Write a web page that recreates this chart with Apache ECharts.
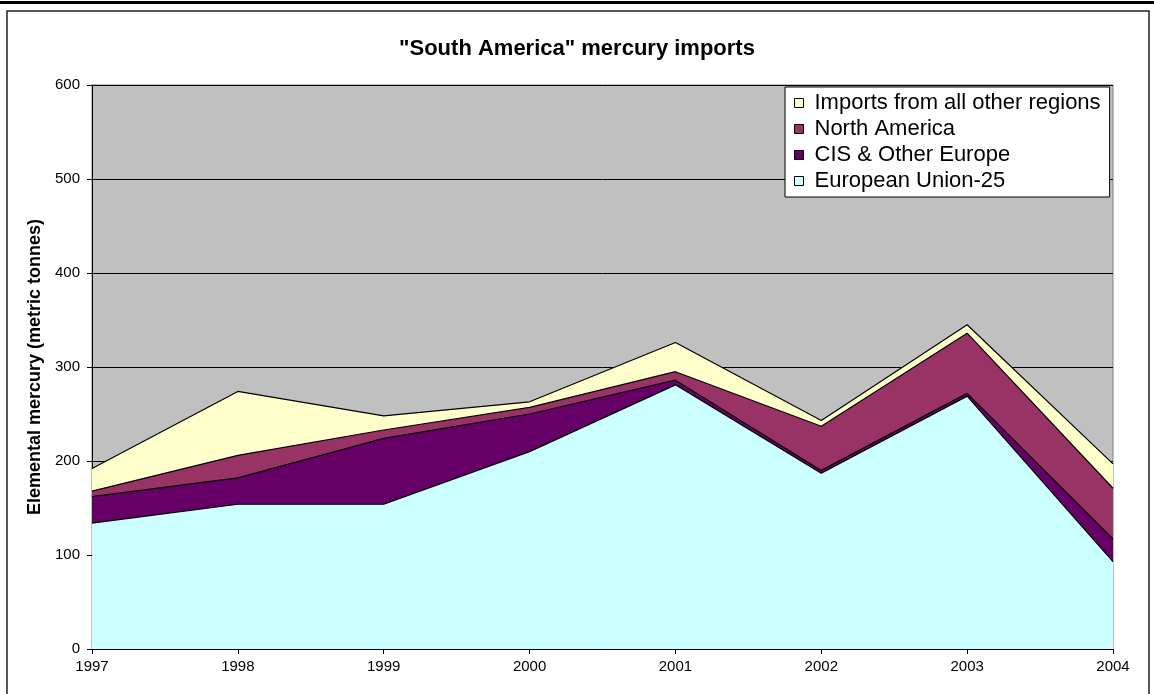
<!DOCTYPE html>
<html>
<head>
<meta charset="utf-8">
<title>"South America" mercury imports</title>
<script src="https://cdn.jsdelivr.net/npm/echarts@6/dist/echarts.min.js"></script>
<style>
  html, body { margin: 0; padding: 0; background: #fff; }
  #chart { width: 1154px; height: 694px; }
</style>
</head>
<body>
<div id="chart"></div>
<script>
const years = ['1997', '1998', '1999', '2000', '2001', '2002', '2003', '2004']
const euValues = [134, 154, 154, 210, 281, 187, 269, 93]
const cisValues = [28, 28, 70, 40, 5, 3, 3, 24]
const northAmericaValues = [6, 24, 9, 7, 9, 47, 64, 54]
const otherValues = [24, 68, 15, 6, 31, 6, 9, 26]

const seriesDefs = [
  { name: 'European Union-25', data: euValues, color: '#CCFFFF' },
  { name: 'CIS & Other Europe', data: cisValues, color: '#660066' },
  { name: 'North America', data: northAmericaValues, color: '#993366' },
  { name: 'Imports from all other regions', data: otherValues, color: '#FFFFCC' }
]

const font = '"Liberation Sans", Arial, sans-serif'

const chart = echarts.init(document.getElementById('chart'))

chart.setOption({
  animation: false,
  backgroundColor: '#fff',
  textStyle: { fontFamily: font },
  title: {
    text: '"South America" mercury imports',
    left: 'center',
    top: 33,
    textStyle: { fontFamily: font, fontSize: 22, fontWeight: 'bold', color: '#000' }
  },
  graphic: [
    { type: 'rect', shape: { x: 0, y: 1, width: 1154, height: 3 }, style: { fill: '#000' } },
    { type: 'rect', shape: { x: 7, y: 11, width: 1142, height: 700 }, style: { fill: 'none', stroke: '#222', lineWidth: 1.5 } }
  ],
  legend: {
    orient: 'vertical',
    left: 785,
    top: 87,
    padding: [5, 9, 5, 9],
    backgroundColor: '#fff',
    borderColor: '#000',
    borderWidth: 1,
    borderRadius: 0,
    icon: 'rect',
    itemWidth: 9,
    itemHeight: 9,
    itemGap: 4,
    itemStyle: { borderColor: '#000', borderWidth: 1 },
    data: ['Imports from all other regions', 'North America', 'CIS & Other Europe', 'European Union-25'],
    textStyle: { fontFamily: font, fontSize: 22, lineHeight: 22, color: '#000', padding: [0, 0, 0, 6] }
  },
  grid: {
    left: 92,
    right: 41,
    top: 85,
    bottom: 45,
    show: true,
    backgroundColor: '#C0C0C0',
    borderColor: '#808080',
    borderWidth: 1
  },
  xAxis: {
    type: 'category',
    data: years,
    boundaryGap: false,
    axisLine: { lineStyle: { color: '#000', width: 1 } },
    axisTick: { show: true, length: 5, lineStyle: { color: '#000' } },
    axisLabel: { color: '#000', fontSize: 15, margin: 10, fontFamily: font },
    splitLine: { show: false }
  },
  yAxis: {
    type: 'value',
    min: 0,
    max: 600,
    interval: 100,
    name: 'Elemental mercury (metric tonnes)',
    nameLocation: 'middle',
    nameGap: 48,
    nameTextStyle: { fontFamily: font, fontSize: 18, fontWeight: 'bold', color: '#000' },
    axisLine: { show: true, lineStyle: { color: '#000', width: 1 } },
    axisTick: { show: true, length: 5, lineStyle: { color: '#000' } },
    axisLabel: { color: '#000', fontSize: 15, margin: 12, fontFamily: font },
    splitLine: { show: true, lineStyle: { color: '#000', width: 1 } }
  },
  series: seriesDefs.map(s => ({
    name: s.name,
    type: 'line',
    stack: 'total',
    data: s.data,
    symbol: 'none',
    itemStyle: { color: s.color },
    lineStyle: { color: '#000', width: 1.2 },
    areaStyle: { color: s.color, opacity: 1 }
  }))
})
</script>
</body>
</html>
